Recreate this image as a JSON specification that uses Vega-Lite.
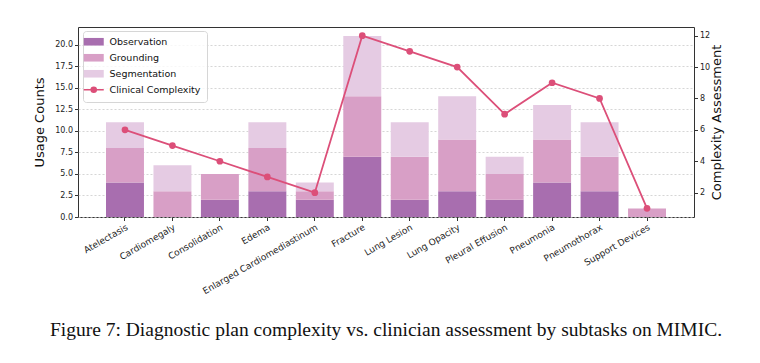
{
  "$schema": "https://vega.github.io/schema/vega-lite/v6.json",
  "width": 616,
  "height": 190,
  "autosize": "none",
  "padding": {"left": 78, "top": 27, "right": 66, "bottom": 146},
  "background": "white",
  "config": {
    "font": "DejaVu Sans",
    "view": {"stroke": "#333333", "strokeWidth": 1},
    "axis": {"labelFont": "DejaVu Sans", "labelFontSize": 8, "labelColor": "#222", "tickColor": "#333", "domainColor": "#333", "titleFont": "DejaVu Sans", "titleFontWeight": "normal", "titleColor": "#111"}
  },
  "title": {
    "text": "Figure 7: Diagnostic plan complexity vs. clinician assessment by subtasks on MIMIC.",
    "orient": "bottom",
    "anchor": "middle",
    "font": "Liberation Serif",
    "fontSize": 19.5,
    "fontWeight": "normal",
    "color": "#111",
    "offset": 25
  },
  "data": {
    "values": [
      {"cat": "Atelectasis", "Observation": 4, "Grounding": 4, "Segmentation": 3, "Complexity": 6},
      {"cat": "Cardiomegaly", "Observation": 0, "Grounding": 3, "Segmentation": 3, "Complexity": 5},
      {"cat": "Consolidation", "Observation": 2, "Grounding": 3, "Segmentation": 0, "Complexity": 4},
      {"cat": "Edema", "Observation": 3, "Grounding": 5, "Segmentation": 3, "Complexity": 3},
      {"cat": "Enlarged Cardiomediastinum", "Observation": 2, "Grounding": 1, "Segmentation": 1, "Complexity": 2},
      {"cat": "Fracture", "Observation": 7, "Grounding": 7, "Segmentation": 7, "Complexity": 12},
      {"cat": "Lung Lesion", "Observation": 2, "Grounding": 5, "Segmentation": 4, "Complexity": 11},
      {"cat": "Lung Opacity", "Observation": 3, "Grounding": 6, "Segmentation": 5, "Complexity": 10},
      {"cat": "Pleural Effusion", "Observation": 2, "Grounding": 3, "Segmentation": 2, "Complexity": 7},
      {"cat": "Pneumonia", "Observation": 4, "Grounding": 5, "Segmentation": 4, "Complexity": 9},
      {"cat": "Pneumothorax", "Observation": 3, "Grounding": 4, "Segmentation": 4, "Complexity": 8},
      {"cat": "Support Devices", "Observation": 0, "Grounding": 1, "Segmentation": 0, "Complexity": 1}
    ]
  },
  "encoding": {
    "x": {
      "field": "cat", "type": "nominal", "sort": null,
      "scale": {"paddingInner": 0.2, "paddingOuter": 0.59},
      "axis": {"title": null, "labelAngle": -30, "labelAlign": "right", "labelBaseline": "top", "labelFontSize": 9, "tickSize": 3.5, "labelPadding": 2, "domain": false}
    }
  },
  "layer": [
    {
      "transform": [
        {"fold": ["Observation", "Grounding", "Segmentation"], "as": ["series", "count"]},
        {"calculate": "indexof(['Observation','Grounding','Segmentation'], datum.series)", "as": "stackOrder"}
      ],
      "mark": {"type": "bar"},
      "encoding": {
        "y": {
          "field": "count", "type": "quantitative", "stack": "zero",
          "scale": {"domain": [0, 22.05], "nice": false, "zero": true},
          "axis": {"title": "Usage Counts", "titleFontSize": 13, "values": [0, 2.5, 5, 7.5, 10, 12.5, 15, 17.5, 20], "format": ".1f", "tickSize": 3.5, "grid": true, "gridDash": [2, 2], "gridColor": "#cccccc", "gridOpacity": 0.8, "domain": false, "titlePadding": 8}
        },
        "order": {"field": "stackOrder", "type": "quantitative", "sort": "ascending"},
        "color": {
          "field": "series", "type": "nominal",
          "scale": {
            "domain": ["Observation", "Grounding", "Segmentation", "Clinical Complexity"],
            "range": ["#a86eaf", "#d89fc6", "#e5cbe3", "#dc4f79"]
          },
          "legend": {
            "title": null,
            "orient": "none",
            "legendX": 5,
            "legendY": 4,
            "labelFont": "DejaVu Sans",
            "labelFontSize": 9.5,
            "labelColor": "#111",
            "symbolSize": 400,
            "symbolStrokeWidth": 1.6,
            "rowPadding": 5,
            "labelOffset": 11,
            "padding": 6,
            "strokeColor": "#d6d6d6",
            "fillColor": "rgba(255,255,255,0.8)",
            "cornerRadius": 3,
            "encode": {
              "symbols": {
                "update": {
                  "shape": {"signal": "datum.value === 'Clinical Complexity' ? 'M-1,0H1M-0.25,0A0.25,0.25 0 1,1 0.25,0A0.25,0.25 0 1,1 -0.25,0Z' : 'M-1,-0.38H1V0.38H-1Z'"},
                  "size": {"value": 400},
                  "strokeWidth": {"signal": "datum.value === 'Clinical Complexity' ? 1.6 : 0"},
                  "stroke": {"scale": "color", "field": "value"},
                  "fill": {"scale": "color", "field": "value"},
                  "opacity": {"value": 1}
                }
              }
            }
          }
        }
      }
    },
    {
      "mark": {"type": "line", "color": "#dc4f79", "strokeWidth": 1.8, "point": {"filled": true, "size": 45, "color": "#dc4f79"}},
      "encoding": {
        "y": {
          "field": "Complexity", "type": "quantitative",
          "scale": {"domain": [0.45, 12.55], "nice": false, "zero": false},
          "axis": {"orient": "right", "title": "Complexity Assessment", "titleFontSize": 13, "titleAngle": -90, "titleBaseline": "top", "values": [2, 4, 6, 8, 10, 12], "tickSize": 3.5, "grid": false, "domain": false, "titlePadding": 1}
        },
        "color": {"datum": "Clinical Complexity", "type": "nominal"}
      }
    }
  ],
  "resolve": {"scale": {"y": "independent"}}
}
